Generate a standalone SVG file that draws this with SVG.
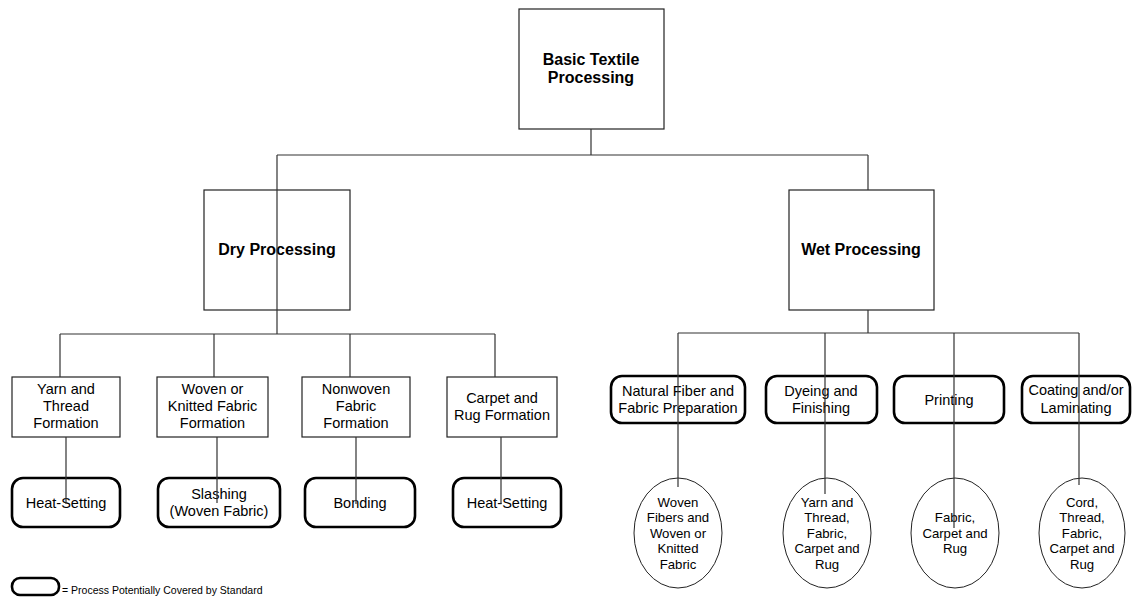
<svg xmlns="http://www.w3.org/2000/svg" width="1132" height="601" viewBox="0 0 1132 601">
<style>
text{font-family:"Liberation Sans",Arial,sans-serif;fill:#000;text-anchor:middle}
.b{font-weight:bold;font-size:16px}
.m{font-size:14.5px}
.s{font-size:13.2px}
.box{fill:#fff;stroke:#222;stroke-width:1.2}
.rb{fill:#fff;stroke:#000;stroke-width:2.6}
.el{fill:#fff;stroke:#222;stroke-width:1}
.c{fill:none;stroke:#333;stroke-width:1.2}
</style>
<rect width="1132" height="601" fill="#fff"/>
<g id="basic"><rect class="box" x="519" y="9" width="145" height="120"/><text class="b" x="591" y="65">Basic Textile</text><text class="b" x="591" y="83">Processing</text></g>
<g id="dry"><rect class="box" x="204" y="190" width="146" height="120"/><text class="b" x="277" y="255">Dry Processing</text></g>
<g id="wet"><rect class="box" x="789" y="190" width="145" height="120"/><text class="b" x="861" y="255">Wet Processing</text></g>
<g id="yarn"><rect class="box" x="12" y="377" width="108" height="60"/><text class="m" x="66" y="394">Yarn and</text><text class="m" x="66" y="411">Thread</text><text class="m" x="66" y="428">Formation</text></g>
<g id="woven"><rect class="box" x="157" y="377" width="111" height="60"/><text class="m" x="212.5" y="394">Woven or</text><text class="m" x="212.5" y="411">Knitted Fabric</text><text class="m" x="212.5" y="428">Formation</text></g>
<g id="nonwoven"><rect class="box" x="302" y="377" width="108" height="60"/><text class="m" x="356" y="394">Nonwoven</text><text class="m" x="356" y="411">Fabric</text><text class="m" x="356" y="428">Formation</text></g>
<g id="carpet"><rect class="box" x="447" y="377" width="110" height="60"/><text class="m" x="502" y="403">Carpet and</text><text class="m" x="502" y="420">Rug Formation</text></g>
<g id="heat1"><rect class="rb" x="12" y="478" width="108" height="49" rx="11"/><text class="m" x="66" y="508">Heat-Setting</text></g>
<g id="slashing"><rect class="rb" x="158" y="478" width="122" height="49" rx="11"/><text class="m" x="219" y="499">Slashing</text><text class="m" x="219" y="516">(Woven Fabric)</text></g>
<g id="bonding"><rect class="rb" x="305" y="478" width="110" height="49" rx="11"/><text class="m" x="360" y="508">Bonding</text></g>
<g id="heat2"><rect class="rb" x="453" y="478" width="108" height="49" rx="11"/><text class="m" x="507" y="508">Heat-Setting</text></g>
<g id="natural"><rect class="rb" x="611" y="376" width="134" height="47" rx="11"/><text class="m" x="678" y="396">Natural Fiber and</text><text class="m" x="678" y="413">Fabric Preparation</text></g>
<g id="dyeing"><rect class="rb" x="766" y="376" width="111" height="47" rx="11"/><text class="m" x="821" y="396">Dyeing and</text><text class="m" x="821" y="413">Finishing</text></g>
<g id="printing"><rect class="rb" x="894" y="376" width="110" height="47" rx="11"/><text class="m" x="949" y="405">Printing</text></g>
<g id="coating"><rect class="rb" x="1022" y="376" width="108" height="47" rx="11"/><text class="m" x="1076" y="395">Coating and/or</text><text class="m" x="1076" y="413">Laminating</text></g>
<g id="oval1"><ellipse class="el" cx="678" cy="533" rx="44" ry="55"/><text class="s" x="678" y="507">Woven</text><text class="s" x="678" y="522">Fibers and</text><text class="s" x="678" y="538">Woven or</text><text class="s" x="678" y="553">Knitted</text><text class="s" x="678" y="569">Fabric</text></g>
<g id="oval2"><ellipse class="el" cx="827" cy="533" rx="44" ry="55"/><text class="s" x="827" y="507">Yarn and</text><text class="s" x="827" y="522">Thread,</text><text class="s" x="827" y="538">Fabric,</text><text class="s" x="827" y="553">Carpet and</text><text class="s" x="827" y="569">Rug</text></g>
<g id="oval3"><ellipse class="el" cx="955" cy="533" rx="44" ry="55"/><text class="s" x="955" y="522">Fabric,</text><text class="s" x="955" y="538">Carpet and</text><text class="s" x="955" y="553">Rug</text></g>
<g id="oval4"><ellipse class="el" cx="1082" cy="533" rx="43" ry="55"/><text class="s" x="1082" y="507">Cord,</text><text class="s" x="1082" y="522">Thread,</text><text class="s" x="1082" y="538">Fabric,</text><text class="s" x="1082" y="553">Carpet and</text><text class="s" x="1082" y="569">Rug</text></g>
<g id="connectors">
<path class="c" d="M591 129V155M277 155H868M277 155V334M868 155V190M868 310V333"/>
<path class="c" d="M60 334H495M60 334V377M214 334V377M350 334V377M495 334V377"/>
<path class="c" d="M66 437V504M217 437V503M356 437V504M501 437V504"/>
<path class="c" d="M678 333H1079M678 333V487M825 333V494M954 333V528M1079 333V485"/>
</g>
<g id="legend"><rect class="rb" x="12" y="578" width="47" height="17" rx="8"/><text x="62" y="594" style="font-size:10.5px;text-anchor:start">= Process Potentially Covered by Standard</text></g>
</svg>
